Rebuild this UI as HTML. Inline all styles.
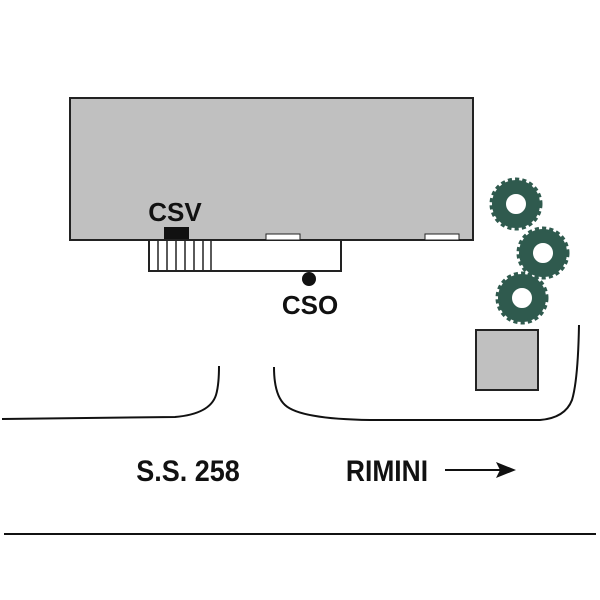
<!DOCTYPE html>
<html><head><style>
html,body{margin:0;padding:0;background:#fff;}
svg{display:block}
text{font-family:"Liberation Sans",Arial,sans-serif;font-weight:bold;fill:#111}
</style></head><body>
<svg width="600" height="600" viewBox="0 0 600 600" xmlns="http://www.w3.org/2000/svg">
<rect x="70" y="98" width="403" height="142" fill="#c0c0c0" stroke="#222" stroke-width="2"/>
<rect x="149" y="240" width="192" height="31" fill="#fff" stroke="#222" stroke-width="2"/>
<g stroke="#222" stroke-width="1.5">
<line x1="158" y1="240" x2="158" y2="271"/><line x1="167" y1="240" x2="167" y2="271"/>
<line x1="176" y1="240" x2="176" y2="271"/><line x1="185" y1="240" x2="185" y2="271"/>
<line x1="194" y1="240" x2="194" y2="271"/><line x1="203" y1="240" x2="203" y2="271"/>
<line x1="211" y1="240" x2="211" y2="271"/>
</g>
<rect x="164" y="227" width="25" height="12" fill="#111"/>
<rect x="266" y="234" width="34" height="6" fill="#fff" stroke="#222" stroke-width="1"/>
<rect x="425" y="234" width="34" height="6" fill="#fff" stroke="#222" stroke-width="1"/>
<circle cx="309" cy="279" r="7" fill="#111"/>
<text x="175" y="221" font-size="26" text-anchor="middle">CSV</text>
<text x="310" y="314" font-size="26" text-anchor="middle">CSO</text>
<g fill="none" stroke="#2f5a4e">
<circle cx="516" cy="204" r="17" stroke-width="14"/>
<circle cx="516" cy="204" r="24" stroke-width="5" stroke-dasharray="4 3"/>
<circle cx="543" cy="253" r="17" stroke-width="14"/>
<circle cx="543" cy="253" r="24" stroke-width="5" stroke-dasharray="4 3"/>
<circle cx="522" cy="298" r="17" stroke-width="14"/>
<circle cx="522" cy="298" r="24" stroke-width="5" stroke-dasharray="4 3"/>
</g>
<rect x="476" y="330" width="62" height="60" fill="#c0c0c0" stroke="#222" stroke-width="2"/>
<g fill="none" stroke="#111" stroke-width="2">
<path d="M2 419 L175 417 Q210 414 216 395 Q219 385 219 366"/>
<path d="M274 367 Q274 395 285 405 Q300 419 370 420 L540 420 Q565 418 572 400 Q578 380 579 325"/>
<line x1="4" y1="534" x2="596" y2="534"/>
<line x1="445" y1="470" x2="500" y2="470"/>
</g>
<path d="M496 462 L516 470 L496 478 L500 470 Z" fill="#111"/>
<text x="188" y="481" font-size="30" text-anchor="middle" transform="translate(188 0) scale(0.9 1) translate(-188 0)">S.S. 258</text>
<text x="387" y="481" font-size="30" text-anchor="middle" transform="translate(387 0) scale(0.88 1) translate(-387 0)">RIMINI</text>
</svg>
</body></html>
